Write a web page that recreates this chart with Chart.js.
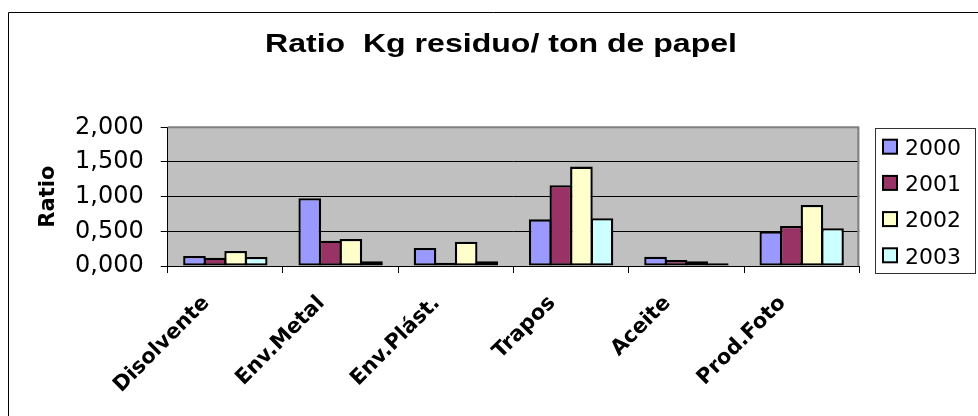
<!DOCTYPE html>
<html>
<head>
<meta charset="utf-8">
<script src="https://cdn.jsdelivr.net/npm/chart.js@4.4.1/dist/chart.umd.min.js"></script>
<style>
html,body{margin:0;padding:0;background:#fff;}
canvas{display:block;}
</style>
</head>
<body>
<canvas id="c" width="978" height="416"></canvas>
<script>
const categories = ['Disolvente', 'Env.Metal', 'Env.Plást.', 'Trapos', 'Aceite', 'Prod.Foto'];
const seriesLabels = ['2000', '2001', '2002', '2003'];
const v2000 = [0.145, 0.977, 0.260, 0.673, 0.135, 0.500];
const v2001 = [0.120, 0.365, 0.048, 1.164, 0.087, 0.577];
const v2002 = [0.216, 0.390, 0.350, 1.433, 0.068, 0.880];
const v2003 = [0.130, 0.068, 0.068, 0.688, 0.038, 0.544];
const yTicks = [0, 0.5, 1.0, 1.5, 2.0];
const chartTitle = 'Ratio  Kg residuo/ ton de papel';
const yTitle = 'Ratio';

const colors = ['#9999FF', '#993366', '#FFFFCC', '#CCFFFF'];
const values = [v2000, v2001, v2002, v2003];

const decor = {
  id: 'decor',
  beforeDraw(chart) {
    const ctx = chart.ctx, a = chart.chartArea;
    ctx.save();
    ctx.fillStyle = '#fff';
    ctx.fillRect(0, 0, chart.width, chart.height);
    ctx.strokeStyle = '#000';
    ctx.lineWidth = 1;
    ctx.beginPath();
    ctx.moveTo(8.5, chart.height);
    ctx.lineTo(8.5, 12.5);
    ctx.lineTo(chart.width, 12.5);
    ctx.stroke();
    ctx.fillStyle = '#C0C0C0';
    ctx.fillRect(a.left, a.top, a.right - a.left, a.bottom - a.top);
    ctx.restore();
  },
  afterDraw(chart) {
    const ctx = chart.ctx, a = chart.chartArea;
    ctx.save();
    ctx.strokeStyle = '#808080';
    ctx.lineWidth = 2;
    ctx.beginPath();
    ctx.moveTo(a.left, a.top);
    ctx.lineTo(a.right - 1, a.top);
    ctx.lineTo(a.right - 1, a.bottom);
    ctx.stroke();
    // title (horizontally stretched like the original)
    ctx.fillStyle = '#000';
    ctx.font = 'bold 26px "Liberation Sans", Arial, sans-serif';
    ctx.textAlign = 'center';
    ctx.textBaseline = 'alphabetic';
    const w = ctx.measureText(chartTitle).width;
    ctx.save();
    ctx.translate(501, 52);
    ctx.scale(472 / w, 1);
    ctx.fillText(chartTitle, 0, 0);
    ctx.restore();
    // legend
    ctx.strokeStyle = '#333';
    ctx.lineWidth = 1;
    ctx.strokeRect(875.5, 128.5, 100, 145);
    const ds = chart.data.datasets;
    ctx.font = '22px "DejaVu Sans", Verdana, sans-serif';
    ctx.textAlign = 'left';
    for (let i = 0; i < ds.length; i++) {
      const cy = 146.7 + i * 36.2;
      ctx.fillStyle = ds[i].backgroundColor;
      ctx.fillRect(883, cy - 7, 14, 14);
      ctx.strokeStyle = '#000';
      ctx.lineWidth = 2;
      ctx.strokeRect(883, cy - 7, 14, 14);
      ctx.fillStyle = '#000';
      ctx.fillText(ds[i].label, 905, cy + 8.3);
    }
    ctx.restore();
  }
};

new Chart(document.getElementById('c'), {
  type: 'bar',
  data: {
    labels: categories,
    datasets: seriesLabels.map((l, i) => ({
      label: l,
      data: values[i],
      backgroundColor: colors[i],
      borderColor: '#000',
      borderWidth: 2.3,
      borderSkipped: false,
      categoryPercentage: 0.714,
      barPercentage: 1.1
    }))
  },
  options: {
    responsive: false,
    devicePixelRatio: 1,
    animation: false,
    layout: { padding: { left: 0, top: 127.3, right: 118.7, bottom: 0 } },
    plugins: { legend: { display: false }, title: { display: false }, tooltip: { enabled: false } },
    scales: {
      x: {
        offset: true,
        grid: { drawOnChartArea: false, drawTicks: true, tickLength: 7, color: '#000', offset: true },
        border: { color: '#000', width: 1 },
        ticks: {
          autoSkip: false, minRotation: 45, maxRotation: 45, padding: 18, labelOffset: -19,
          color: '#000',
          font: { family: '"DejaVu Sans", Verdana, sans-serif', size: 21, weight: 'bold' }
        },
        afterFit(s) { s.height = 150; }
      },
      y: {
        min: 0, max: 2,
        afterBuildTicks(s) { s.ticks = yTicks.map(v => ({ value: v })); },
        grid: {
          color: (c) => (c.tick && c.tick.value === 2 ? 'rgba(0,0,0,0)' : '#000'),
          tickColor: '#000',
          tickLength: 7, lineWidth: 1
        },
        border: { color: '#000', width: 1 },
        ticks: {
          padding: 17, color: '#000',
          font: { family: '"DejaVu Sans", Verdana, sans-serif', size: 24 },
          callback: (v) => Number(v).toFixed(3).replace('.', ',')
        },
        title: {
          display: true, text: yTitle, color: '#000',
          padding: { top: 36, bottom: 0 },
          font: { family: '"DejaVu Sans", Verdana, sans-serif', size: 21, weight: 'bold' }
        },
        afterFit(s) { s.width = 167.7; }
      }
    }
  },
  plugins: [decor]
});
</script>
</body>
</html>
